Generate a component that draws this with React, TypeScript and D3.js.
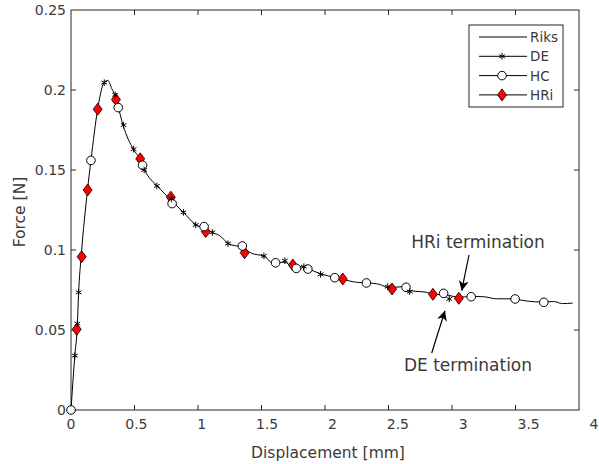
import React, { useRef, useEffect } from "react";
import * as d3 from "d3";

// Riks path (displacement mm, force N)
const riks: [number, number][] = [
  [0, 0], [0.03, 0.034], [0.05, 0.053], [0.06, 0.0735], [0.08, 0.096],
  [0.13, 0.1375], [0.157, 0.156], [0.21, 0.188], [0.26, 0.2046], [0.29, 0.206],
  [0.32, 0.201], [0.35, 0.196], [0.37, 0.19], [0.41, 0.178], [0.49, 0.163],
  [0.55, 0.156], [0.58, 0.15], [0.68, 0.14], [0.79, 0.131], [0.885, 0.1235],
  [0.98, 0.116], [1.05, 0.1135], [1.11, 0.111], [1.17, 0.109], [1.24, 0.104],
  [1.35, 0.1015], [1.42, 0.098], [1.52, 0.096], [1.6, 0.0915], [1.68, 0.0925],
  [1.75, 0.0895], [1.83, 0.0895], [1.87, 0.0882], [1.97, 0.085], [2.08, 0.0828],
  [2.14, 0.0817], [2.25, 0.0798], [2.33, 0.0795], [2.43, 0.0785], [2.5, 0.0765],
  [2.6, 0.077], [2.67, 0.0745], [2.78, 0.0738], [2.88, 0.0722], [2.95, 0.072],
  [3.05, 0.0705], [3.15, 0.071], [3.25, 0.0708], [3.35, 0.0695], [3.45, 0.0695],
  [3.52, 0.069], [3.6, 0.068], [3.7, 0.0675], [3.8, 0.0678], [3.87, 0.0665],
  [3.95, 0.0668],
];

const de: [number, number][] = [
  [0.031, 0.034], [0.05, 0.054], [0.06, 0.0735], [0.262, 0.2046], [0.348, 0.197],
  [0.414, 0.178], [0.493, 0.163], [0.576, 0.15], [0.676, 0.14], [0.79, 0.132],
  [0.885, 0.1235], [0.982, 0.1156], [1.113, 0.111], [1.236, 0.104], [1.519, 0.0963],
  [1.684, 0.0933], [1.834, 0.0896], [1.965, 0.0848], [2.494, 0.0771], [2.667, 0.074],
  [2.978, 0.0694],
];

const hc: [number, number][] = [
  [0, 0], [0.157, 0.156], [0.372, 0.189], [0.563, 0.153], [0.796, 0.129],
  [1.048, 0.1146], [1.349, 0.1025], [1.611, 0.092], [1.774, 0.0885], [1.865, 0.0881],
  [2.077, 0.0827], [2.326, 0.0794], [2.638, 0.0767], [2.934, 0.0729], [3.151, 0.0708],
  [3.497, 0.0694], [3.723, 0.0673],
];

const hri: [number, number][] = [
  [0.045, 0.0504], [0.084, 0.0958], [0.131, 0.1375], [0.21, 0.188], [0.354, 0.194],
  [0.545, 0.157], [0.786, 0.133], [1.061, 0.1115], [1.367, 0.0983], [1.747, 0.0906],
  [2.14, 0.0819], [2.528, 0.0756], [2.85, 0.0723], [3.054, 0.0698],
];

const xTicks = [0, 0.5, 1, 1.5, 2, 2.5, 3, 3.5, 4];
const yTicks = [0, 0.05, 0.1, 0.15, 0.2, 0.25];
const legendNames = ["Riks", "DE", "HC", "HRi"];

const W = 599;
const H = 464;
const AX = "#262626";
const TXT = "#3a3a3a";
const FONT = "DejaVu Sans";

const App = () => {
  const svgRef = useRef<SVGSVGElement>(null);

  useEffect(() => {
    const svg = d3.select(svgRef.current);
    svg.selectAll("*").remove();

    const x = d3.scaleLinear().domain([0, 4]).range([71, 579]);
    const y = d3.scaleLinear().domain([0, 0.25]).range([410, 10]);
    // tick labels in the source sit slightly spread from the tick marks
    const xLab = d3.scaleLinear().domain([0, 4]).range([71, 594]);

    // box
    svg.append("rect")
      .attr("x", x(0)).attr("y", y(0.25))
      .attr("width", x(4) - x(0)).attr("height", y(0) - y(0.25))
      .attr("fill", "white").attr("stroke", AX).attr("stroke-width", 1);

    // ticks inside
    const tk = 5;
    xTicks.forEach((t) => {
      if (t > 0 && t < 4) {
        svg.append("line").attr("x1", x(t)).attr("x2", x(t))
          .attr("y1", y(0)).attr("y2", y(0) - tk).attr("stroke", AX);
        svg.append("line").attr("x1", x(t)).attr("x2", x(t))
          .attr("y1", y(0.25)).attr("y2", y(0.25) + tk).attr("stroke", AX);
      }
      svg.append("text").attr("x", xLab(t)).attr("y", y(0) + 19)
        .attr("text-anchor", "middle").attr("font-family", FONT)
        .attr("font-size", 14).attr("fill", TXT).text(String(t));
    });
    yTicks.forEach((t) => {
      if (t > 0 && t < 0.25) {
        svg.append("line").attr("x1", x(0)).attr("x2", x(0) + tk)
          .attr("y1", y(t)).attr("y2", y(t)).attr("stroke", AX);
        svg.append("line").attr("x1", x(4)).attr("x2", x(4) - tk)
          .attr("y1", y(t)).attr("y2", y(t)).attr("stroke", AX);
      }
      svg.append("text").attr("x", 66).attr("y", y(t) + 5)
        .attr("text-anchor", "end").attr("font-family", FONT)
        .attr("font-size", 14).attr("fill", TXT).text(String(t));
    });

    // axis titles
    svg.append("text").attr("x", 328).attr("y", 458)
      .attr("text-anchor", "middle").attr("font-family", FONT)
      .attr("font-size", 15.5).attr("fill", TXT).text("Displacement [mm]");
    svg.append("text").attr("transform", "translate(25,212) rotate(-90)")
      .attr("text-anchor", "middle").attr("font-family", FONT)
      .attr("font-size", 15.5).attr("fill", TXT).text("Force [N]");

    // Riks curve
    const line = d3.line<[number, number]>()
      .x((d) => x(d[0])).y((d) => y(d[1]))
      .curve(d3.curveMonotoneX);
    svg.append("path").datum(riks).attr("d", line)
      .attr("fill", "none").attr("stroke", "black").attr("stroke-width", 1);

    const star = d3.symbol().type(d3.symbolAsterisk).size(30);
    const diamond = "M0,-6L4.5,0L0,6L-4.5,0Z";

    // HRi diamonds
    svg.append("g").selectAll("path").data(hri).join("path")
      .attr("d", diamond)
      .attr("transform", (d) => `translate(${x(d[0])},${y(d[1])})`)
      .attr("fill", "#ff0000").attr("stroke", "black").attr("stroke-width", 0.8);

    // HC circles
    svg.append("g").selectAll("circle").data(hc).join("circle")
      .attr("cx", (d) => x(d[0])).attr("cy", (d) => y(d[1])).attr("r", 4.3)
      .attr("fill", "white").attr("stroke", "black").attr("stroke-width", 1);

    // DE stars
    svg.append("g").selectAll("path").data(de).join("path")
      .attr("d", star)
      .attr("transform", (d) => `translate(${x(d[0])},${y(d[1])})`)
      .attr("fill", "none").attr("stroke", "black").attr("stroke-width", 1);

    // legend
    const lg = svg.append("g");
    lg.append("rect").attr("x", 469).attr("y", 25).attr("width", 94).attr("height", 82)
      .attr("fill", "white").attr("stroke", AX).attr("stroke-width", 1);
    legendNames.forEach((name, i) => {
      const ly = 37 + i * 19.3;
      lg.append("line").attr("x1", 479).attr("x2", 527).attr("y1", ly).attr("y2", ly)
        .attr("stroke", "black");
      if (name === "DE") {
        lg.append("path").attr("d", star).attr("transform", `translate(502,${ly})`)
          .attr("fill", "none").attr("stroke", "black");
      } else if (name === "HC") {
        lg.append("circle").attr("cx", 502).attr("cy", ly).attr("r", 4.3)
          .attr("fill", "white").attr("stroke", "black");
      } else if (name === "HRi") {
        lg.append("path").attr("d", diamond).attr("transform", `translate(502,${ly})`)
          .attr("fill", "#ff0000").attr("stroke", "black").attr("stroke-width", 0.8);
      }
      lg.append("text").attr("x", 530).attr("y", ly + 5)
        .attr("font-family", FONT).attr("font-size", 13.5).attr("fill", TXT).text(name);
    });

    // annotations
    const defs = svg.append("defs");
    defs.append("marker").attr("id", "arr").attr("viewBox", "0 0 10 10")
      .attr("refX", 10).attr("refY", 5).attr("markerWidth", 10).attr("markerHeight", 10)
      .attr("markerUnits", "userSpaceOnUse").attr("orient", "auto")
      .append("path").attr("d", "M0,0L10,5L0,10L3,5Z").attr("fill", "black");

    svg.append("line").attr("x1", 469).attr("y1", 255).attr("x2", 461.7).attr("y2", 290.7)
      .attr("stroke", "black").attr("stroke-width", 1.2).attr("marker-end", "url(#arr)");
    svg.append("line").attr("x1", 431.7).attr("y1", 353).attr("x2", 445).attr("y2", 310.7)
      .attr("stroke", "black").attr("stroke-width", 1.2).attr("marker-end", "url(#arr)");

    svg.append("text").attr("x", 478).attr("y", 248).attr("text-anchor", "middle")
      .attr("font-family", FONT).attr("font-size", 17).attr("fill", TXT)
      .text("HRi termination");
    svg.append("text").attr("x", 468).attr("y", 371).attr("text-anchor", "middle")
      .attr("font-family", FONT).attr("font-size", 17).attr("fill", TXT)
      .text("DE termination");
  }, []);

  return (
    <svg
      ref={svgRef}
      width={W}
      height={H}
      style={{ position: "absolute", left: 0, top: 0, background: "white" }}
    />
  );
};

export default App;
